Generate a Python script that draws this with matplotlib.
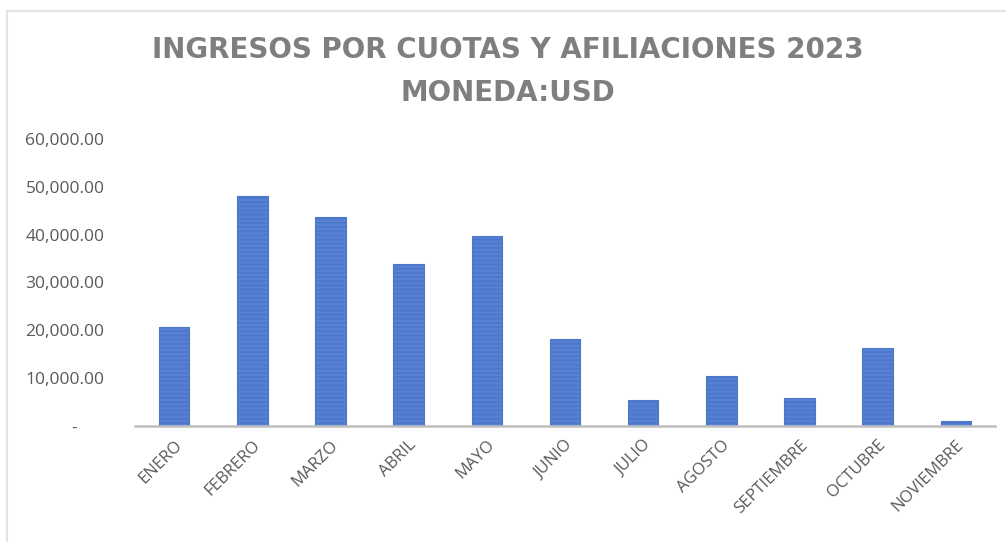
import matplotlib.pyplot as plt
from matplotlib.ticker import FuncFormatter
from matplotlib.lines import Line2D

# datos
meses = ["ENERO", "FEBRERO", "MARZO", "ABRIL", "MAYO", "JUNIO",
         "JULIO", "AGOSTO", "SEPTIEMBRE", "OCTUBRE", "NOVIEMBRE"]
ingresos = [20700, 48100, 43700, 33900, 39700, 18200,
            5400, 10500, 5900, 16400, 1100]
y_ticks = [0, 10000, 20000, 30000, 40000, 50000, 60000]

plt.rcParams['font.family'] = ['Open Sans', 'DejaVu Sans']
plt.rcParams['hatch.linewidth'] = 1.4
plt.rcParams['hatch.color'] = '#A6BDEC'

fig = plt.figure(figsize=(10.06, 5.42), dpi=100)
ax = fig.add_axes([135 / 1006, 1 - 426 / 542, 860 / 1006, 287 / 542])

# borde del area del grafico (solo arriba e izquierda se ven en la captura)
x0, y_top = 7 / 1006, 1 - 11 / 542
fig.add_artist(Line2D([x0, 1], [y_top, y_top], transform=fig.transFigure,
                      color='#E3E3E3', linewidth=1.5))
fig.add_artist(Line2D([x0, x0], [0, y_top], transform=fig.transFigure,
                      color='#E3E3E3', linewidth=1.5))

x = range(len(meses))
ax.bar(x, ingresos, width=0.39, color='#5880D3', edgecolor='#4C78CC',
       linewidth=0.8, hatch='----', zorder=2)

ax.set_xlim(-0.5, len(meses) - 0.5)
ax.set_ylim(0, 60000)
ax.set_yticks(y_ticks)


def fmt(v, pos):
    if v == 0:
        return "-      "
    return f"{v:,.2f}"


ax.yaxis.set_major_formatter(FuncFormatter(fmt))
ax.set_xticks(list(x))
ax.set_xticklabels(meses, rotation=45, ha='right', rotation_mode='anchor')

ax.tick_params(axis='y', length=0, pad=22, labelsize=12.5, labelcolor='#595959')
ax.tick_params(axis='x', length=0, pad=8, labelsize=12, labelcolor='#595959')

for s in ['top', 'right', 'left']:
    ax.spines[s].set_visible(False)
ax.spines['bottom'].set_color('#BFBFBF')
ax.spines['bottom'].set_linewidth(1.8)

titulo_kw = dict(ha='center', va='center', fontsize=20, fontweight='bold',
                 color='#7F7F7F', family=['DejaVu Sans'])
fig.text(0.505, 0.907, "INGRESOS POR CUOTAS Y AFILIACIONES 2023", **titulo_kw)
fig.text(0.505, 0.829, "MONEDA:USD", **titulo_kw)

fig.savefig("out.png", dpi=100)
